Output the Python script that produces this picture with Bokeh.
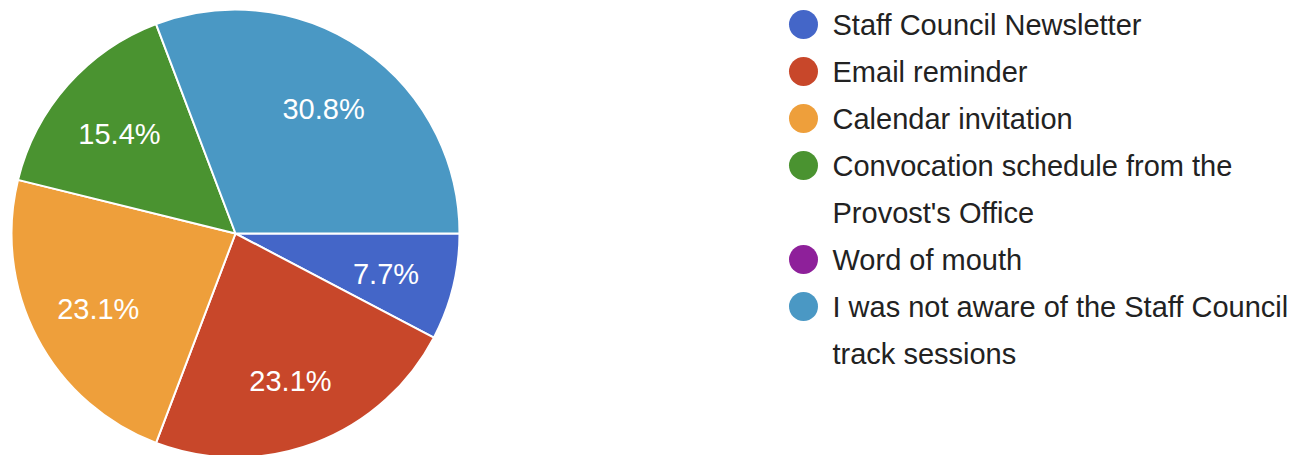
import math
from bokeh.plotting import figure
from bokeh.models import Range1d, ColumnDataSource
from bokeh.core.properties import value
from bokeh.embed import file_html
from bokeh.resources import INLINE

# ---- data ----
categories = [
    "Staff Council Newsletter",
    "Email reminder",
    "Calendar invitation",
    "Convocation schedule from the\nProvost's Office",
    "Word of mouth",
    "I was not aware of the Staff Council\ntrack sessions",
]
percentages = [7.7, 23.1, 23.1, 15.4, 0.0, 30.8]
colors = ["#4466C8", "#C8472A", "#EE9F3B", "#4A9330", "#8E209A", "#4A98C4"]

W, H = 1307, 455
p = figure(width=W, height=H, output_backend="svg", toolbar_location=None,
           x_range=Range1d(0, W), y_range=Range1d(0, H), min_border=0,
           outline_line_color=None, background_fill_color="white")
p.axis.visible = False
p.grid.visible = False

FONT = value("Liberation Sans")

cx, cy, R = 235, H - 233, 224
LR = 155  # label radius
total = sum(percentages)
starts, ends, lx, ly, ltxt, cols = [], [], [], [], [], []
cum = 0.0
for pct, col in zip(percentages, colors):
    a0 = -cum / total * 2 * math.pi
    a1 = -(cum + pct) / total * 2 * math.pi
    if pct > 0:
        starts.append(a0)
        ends.append(a1)
        cols.append(col)
        mid = (a0 + a1) / 2
        lx.append(cx + LR * math.cos(mid))
        ly.append(cy + LR * math.sin(mid))
        ltxt.append(f"{pct:.1f}%")
    cum += pct

src = ColumnDataSource(dict(start=starts, end=ends, color=cols))
p.wedge(x=cx, y=cy, radius=R, start_angle="start", end_angle="end",
        direction="clock", fill_color="color", line_color="white",
        line_width=2, source=src)

p.text(x=lx, y=ly, text=ltxt, text_color="white", text_font=FONT,
       text_font_size="29px", text_align="center", text_baseline="middle",
       y_offset=3)

# ---- legend ----
leg_x = 803
txt_x = 832
y0 = H - 24
step = 47
row = 0
mx, my, mc, tx, ty, tt = [], [], [], [], [], []
for cat, col in zip(categories, colors):
    lines = cat.split("\n")
    yy = y0 - row * step
    mx.append(leg_x)
    my.append(yy)
    mc.append(col)
    for i, ln in enumerate(lines):
        tx.append(txt_x)
        ty.append(yy - i * step)
        tt.append(ln)
    row += len(lines)

p.scatter(x=mx, y=my, size=29, fill_color=mc, line_color=None)
p.text(x=tx, y=ty, text=tt, text_color="#222222", text_font=FONT,
       text_font_size="29px", text_align="left", text_baseline="middle")

open("out.html", "w").write(file_html(p, INLINE))
